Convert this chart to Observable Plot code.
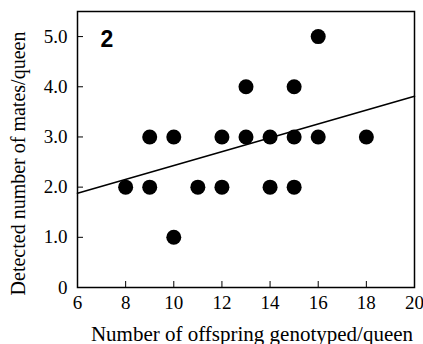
<!DOCTYPE html>
<html><head><meta charset="utf-8">
<script src="https://cdn.jsdelivr.net/npm/d3@7"></script>
<script src="https://cdn.jsdelivr.net/npm/@observablehq/plot@0.6"></script>
<style>
html,body{margin:0;padding:0;background:#fff;}
#chart{position:relative;width:423px;height:344px;}
#chart svg text { font-family: "Liberation Serif", "Times New Roman", serif !important; }
#chart svg g[font-weight="bold"] text, #chart svg text[font-weight="bold"] { font-family: "Liberation Sans", Arial, sans-serif !important; }
</style>
</head><body><div id="chart"></div>
<script>
const offspring = [8, 9, 9, 10, 10, 11, 12, 12, 13, 13, 14, 14, 15, 15, 15, 16, 16, 18];
const mates     = [2, 2, 3, 3, 1, 2, 3, 2, 4, 3, 3, 2, 4, 3, 2, 5, 3, 3];
const fitX = [6, 20];
const fitY = [1.88, 3.81];
const xTicks = [6, 8, 10, 12, 14, 16, 18, 20];
const yTicks = [0, 1, 2, 3, 4, 5];
const yTickLabels = ["0", "1.0", "2.0", "3.0", "4.0", "5.0"];
const panelLabel = "2";
const xTitle = "Number of offspring genotyped/queen";
const yTitle = "Detected number of mates/queen";

const points = offspring.map((x, i) => ({x, y: mates[i]}));
const fit = fitX.map((x, i) => ({x, y: fitY[i]}));
const serif = "'Liberation Serif', 'Times New Roman', serif";

const chart = Plot.plot({
  width: 423,
  height: 344,
  marginLeft: 77,
  marginRight: 9,
  marginTop: 11,
  marginBottom: 57,
  style: {fontFamily: serif, background: "#fff", color: "#000"},
  x: {domain: [6, 20]},
  y: {domain: [0, 5.5]},
  marks: [
    Plot.line(fit, {x: "x", y: "y", stroke: "#000", strokeWidth: 1.6}),
    Plot.dot(points, {x: "x", y: "y", r: 7.5, fill: "#000", stroke: "none"}),
    Plot.frame({stroke: "#000", strokeWidth: 1.5}),
    Plot.axisX({ticks: xTicks, tickSize: -6, tickPadding: 14, fontSize: 19, fontFamily: serif, tickFormat: d => String(d), label: null}),
    Plot.axisY({ticks: yTicks, tickSize: -6, tickPadding: 16, fontSize: 19, fontFamily: serif, tickFormat: d => yTickLabels[yTicks.indexOf(d)], label: null}),
    Plot.text([panelLabel], {frameAnchor: "top-left", text: d => d, dx: 23, dy: 19, fontFamily: "'Liberation Sans', Arial, sans-serif", fontWeight: "bold", fontSize: 23, textAnchor: "start", lineAnchor: "top"}),
    Plot.text([xTitle], {frameAnchor: "bottom", text: d => d, dy: 53, dx: 6, fontSize: 21, fontFamily: serif, lineAnchor: "bottom"}),
    Plot.text([yTitle], {frameAnchor: "left", text: d => d, dx: -59, dy: 14, rotate: -90, fontSize: 20, fontFamily: serif, textAnchor: "middle", lineAnchor: "middle"})
  ]
});
document.getElementById("chart").appendChild(chart);
</script>
</body></html>
